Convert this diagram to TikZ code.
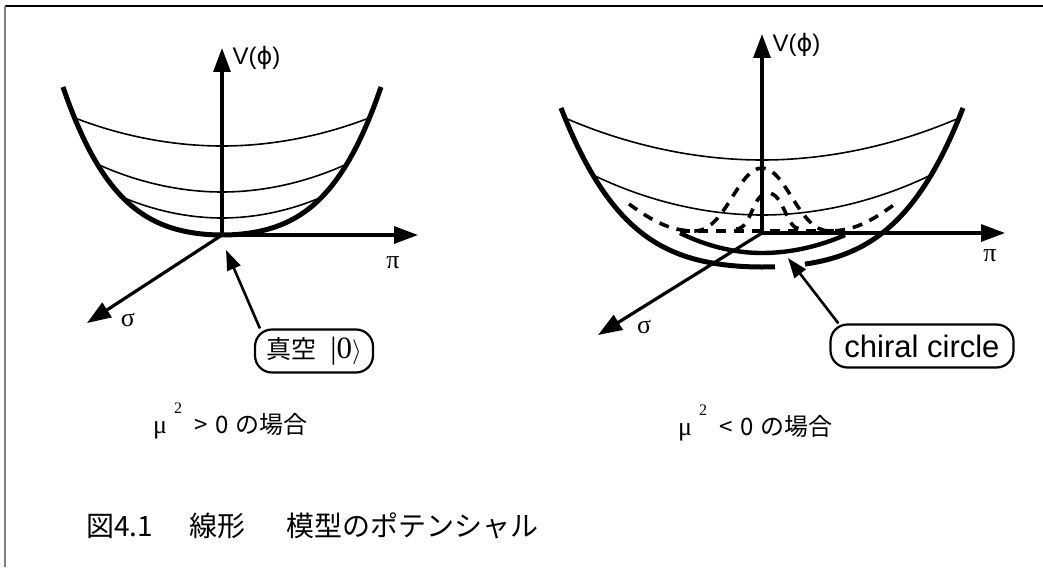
\documentclass[tikz,border=0pt]{standalone}
\usepackage{fontspec}
\setmainfont{Liberation Sans}
\newfontfamily\jpfont{Noto Sans CJK JP}
\newfontfamily\grfont{Liberation Serif}
\newfontfamily\phifont{DejaVu Sans}
\usetikzlibrary{arrows.meta}

\begin{document}
\begin{tikzpicture}[x=1pt,y=-1pt,
	>={Triangle[length=24pt,width=17pt]},
	truc/.style={line width=3.2pt,->},
	bat/.style={line width=5pt},
	vien/.style={line width=1.6pt},
	net/.style={line width=3.6pt,dash pattern=on 10pt off 8pt},
	hop/.style={draw,line width=2.2pt,rounded corners=17pt,minimum height=43pt,inner xsep=9pt,inner ysep=0pt},
	chi/.style={line width=2.6pt,-{Triangle[length=20pt,width=14pt]}},
	chu/.style={font=\fontsize{24}{28}\selectfont},
	hylap/.style={font=\grfont\fontsize{26}{30}\selectfont}]
	\useasboundingbox (0,0) rectangle (1043,567);
	%Khung
	\draw[line width=1.8pt] (5,6) -- (1043,6);
	\draw[line width=1.6pt,gray] (5,6) -- (5,567);
	%Hinh 1: bat
	\draw[bat] plot[domain=-1.59:1.59,samples=80] ({222+100*\x},{235-24.77*(\x)^2-13.36*(\x)^4});
	\draw[vien] (75,118) parabola bend (222,146) (369,118);
	\draw[vien] (97,164) parabola bend (222,192) (347,164);
	\draw[vien] (122,197) parabola bend (222,218) (322,197);
	%Truc 1
	\coordinate (O1) at (222,235);
	\coordinate (V1) at (222,48);
	\coordinate (P1) at (418,235);
	\coordinate (S1) at (87,323);
	\draw[truc] (O1) -- (V1);
	\draw[truc] (O1) -- (P1);
	\draw[truc] (O1) -- (S1);
	\node[chu,anchor=west] (lv1) at (229,58) {V({\phifont ϕ})};
	\node[hylap] (lp1) at (393,263) {π};
	\node[hylap] (ls1) at (128,320) {σ};
	%Chan khong
	\coordinate (C1) at (226,250);
	\node[hop,minimum width=118pt,font=\fontsize{25}{30}\selectfont] (vac) at (314,351) {{\jpfont 真空}\hspace{14pt}{\grfont\fontsize{31}{34}\selectfont |0$\rangle$}};
	\draw[chi] ([xshift=6pt]vac.north west) -- (C1);
	\node[anchor=base west,inner sep=0pt] (dk1) at (153,433) {{\grfont\fontsize{26}{30}\selectfont μ}\hspace{7pt}\raisebox{20pt}{\grfont\fontsize{16}{16}\selectfont 2}\hspace{12pt}{\jpfont\fontsize{24}{28}\selectfont >\hspace{8pt}0\hspace{7pt}の場合}};
	%Hinh 2: bat
	\draw[bat] plot[domain=-2.01:0.13,samples=80] ({762+100*\x},{267-14.64*(\x)^2-6.12*(\x)^4});
	\draw[bat] plot[domain=0.43:2.01,samples=60] ({762+100*\x},{267-14.64*(\x)^2-6.12*(\x)^4});
	\draw[vien] (565,118) parabola bend (762,160) (959,118);
	\draw[vien] (593,175) parabola bend (762,215) (931,175);
	%Mu (net dut)
	\draw[net] (629,204) .. controls (655,223) and (672,231) .. (695,231) .. controls (725,231) and (738,168) .. (762,168) .. controls (786,168) and (799,231) .. (829,231) .. controls (852,231) and (869,223) .. (895,204);
	\draw[net] (736,229) .. controls (752,229) and (752,193) .. (768,193) .. controls (784,193) and (786,229) .. (800,229);
	\draw[net] (680,231) -- (845,231);
	%Vong chiral
	\draw[line width=4.4pt] (680,233) parabola bend (762,253) (845,235);
	%Truc 2
	\coordinate (O2) at (762,233);
	\coordinate (V2) at (762,34);
	\coordinate (P2) at (1005,233);
	\coordinate (S2) at (598,335);
	\draw[truc] (O2) -- (V2);
	\draw[truc] (O2) -- (P2);
	\draw[truc] (O2) -- (S2);
	\node[chu,anchor=west] (lv2) at (769,45) {V({\phifont ϕ})};
	\node[hylap] (lp2) at (990,256) {π};
	\node[hylap] (ls2) at (644,327) {σ};
	\coordinate (C2) at (788,258);
	\node[hop,minimum width=183pt,font=\fontsize{31}{36}\selectfont] (chiral) at (922,346) {chiral circle};
	\draw[chi] ([xshift=9pt]chiral.north west) -- (C2);
	\node[anchor=base west,inner sep=0pt] (dk2) at (678,435) {{\grfont\fontsize{26}{30}\selectfont μ}\hspace{7pt}\raisebox{20pt}{\grfont\fontsize{16}{16}\selectfont 2}\hspace{12pt}{\jpfont\fontsize{24}{28}\selectfont <\hspace{8pt}0\hspace{7pt}の場合}};
	%Tieu de
	\node[anchor=base west,inner sep=0pt] (tieude) at (86,536) {\jpfont\fontsize{28}{32}\selectfont 図4.1\hspace{36pt}線形\hspace{41pt}模型のポテンシャル};
\end{tikzpicture}
\end{document}
